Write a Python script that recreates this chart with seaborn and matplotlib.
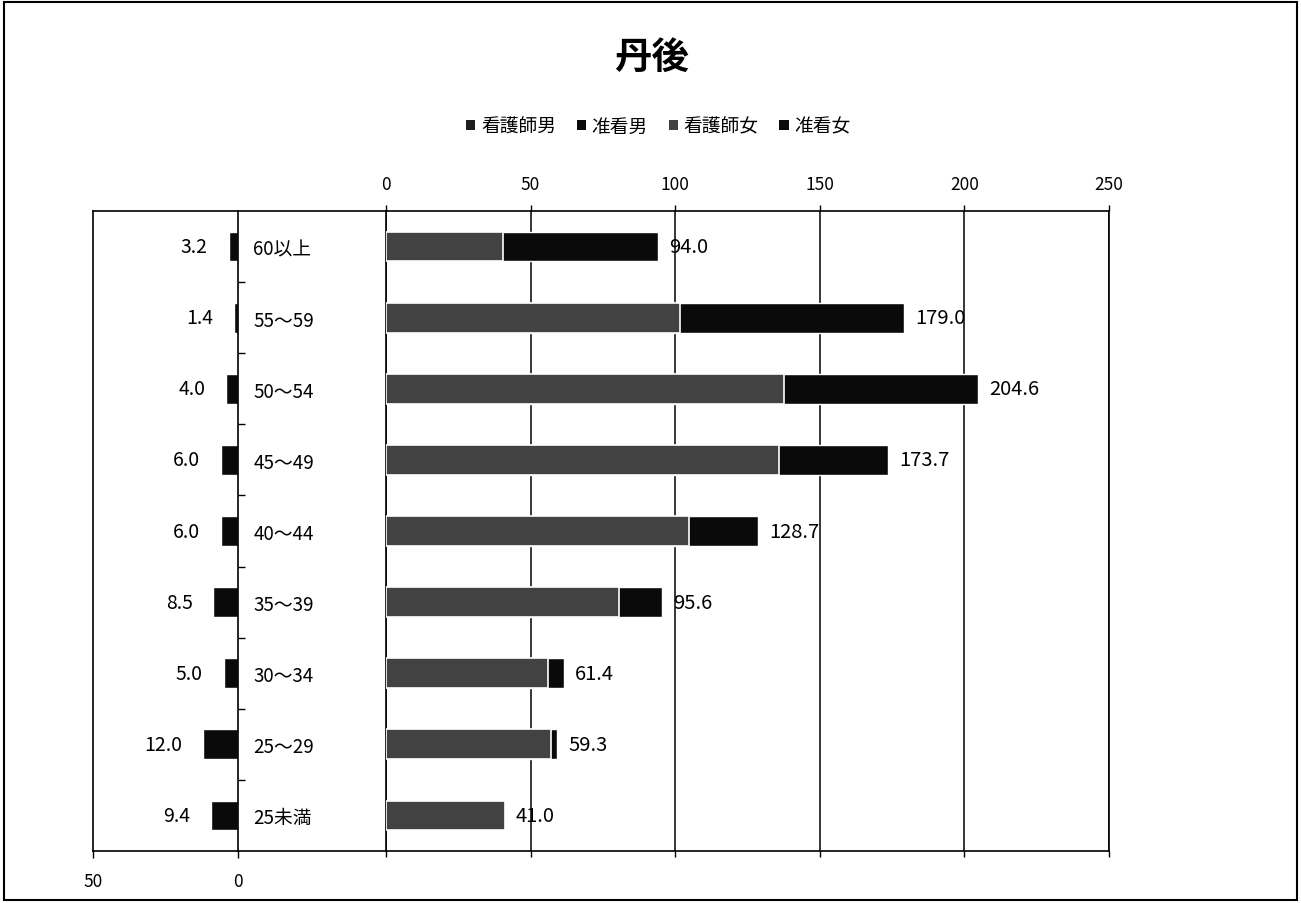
import numpy as np
import matplotlib
matplotlib.use("Agg")
import matplotlib.pyplot as plt
from matplotlib.patches import Patch, Rectangle
import seaborn as sns

# ----- style -----
sns.set_theme(style="white")
plt.rcParams["font.family"] = ["Noto Sans CJK JP", "DejaVu Sans"]
plt.rcParams["text.color"] = "black"
plt.rcParams["xtick.color"] = "black"
plt.rcParams["ytick.color"] = "black"

# ----- data -----
title = "丹後"
age_groups = ["60以上", "55～59", "50～54", "45～49", "40～44",
              "35～39", "30～34", "25～29", "25未満"]
male_total = [3.2, 1.4, 4.0, 6.0, 6.0, 8.5, 5.0, 12.0, 9.4]
nurse_female = [40.5, 101.5, 137.5, 136.0, 104.7, 80.6, 56.0, 57.2, 41.0]
assoc_female = [53.5, 77.5, 67.1, 37.7, 24.0, 15.0, 5.4, 2.1, 0.0]
legend_labels = ["看護師男", "准看男", "看護師女", "准看女"]
female_total = np.array(nurse_female) + np.array(assoc_female)

c_black = "#0a0a0a"
c_gray = "#424242"

W, H = 1301, 904
fig = plt.figure(figsize=(W / 100, H / 100), dpi=100)

def box(x0, x1, y0=212, y1=852):
    return [x0 / W, 1 - y1 / H, (x1 - x0) / W, (y1 - y0) / H]

ax_l = fig.add_axes(box(93, 238))
ax_m = fig.add_axes(box(238, 386))
ax_r = fig.add_axes(box(386, 1109))

# ----- left panel: male -----
sns.barplot(x=male_total, y=age_groups, order=age_groups, color=c_black,
            width=0.42, saturation=1, ax=ax_l)
ax_l.set_xlim(50, 0)
ax_l.set_xticks([50, 0])
ax_l.set_xticklabels(["50", "0"], fontsize=12.5)
ax_l.tick_params(axis="x", bottom=True, length=5, width=1, pad=10)
ax_l.yaxis.tick_right()
ax_l.set_yticks(range(len(age_groups)))
ax_l.set_yticklabels(age_groups, fontsize=13.5, ha="left")
ax_l.set_yticks(np.arange(0.5, len(age_groups) - 1, 1), minor=True)
ax_l.tick_params(axis="y", which="major", length=0, pad=11)
ax_l.tick_params(axis="y", which="minor", right=True, length=5, width=1,
                 direction="out")
ax_l.set_xlabel("")
ax_l.set_ylabel("")
for s in ax_l.spines.values():
    s.set_color("black")
    s.set_linewidth(1.2)
ax_l.bar_label(ax_l.containers[0], labels=[f"{v:.1f}" for v in male_total],
               padding=15, fontsize=14)

# ----- middle: only frame lines -----
ax_m.set_facecolor("none")
ax_m.set_xticks([])
ax_m.set_yticks([])
for side in ["left", "right"]:
    ax_m.spines[side].set_visible(False)
for side in ["top", "bottom"]:
    ax_m.spines[side].set_color("black")
    ax_m.spines[side].set_linewidth(1.2)

# ----- right panel: female stacked -----
sns.barplot(x=female_total, y=age_groups, order=age_groups, color=c_black,
            width=0.42, saturation=1, ax=ax_r, zorder=2)
sns.barplot(x=nurse_female, y=age_groups, order=age_groups, color=c_gray,
            width=0.42, saturation=1, ax=ax_r, edgecolor="white",
            linewidth=1.2, zorder=3)
ax_r.set_xlim(0, 250)
ax_r.set_xticks([0, 50, 100, 150, 200, 250])
ax_r.set_xticklabels(["0", "50", "100", "150", "200", "250"], fontsize=12.5)
ax_r.tick_params(axis="x", top=True, labeltop=True, bottom=True,
                 labelbottom=False, length=4, width=1, pad=9)
ax_r.xaxis.grid(True, color="black", linewidth=1.1)
ax_r.set_axisbelow(True)
ax_r.set_yticks([])
ax_r.set_xlabel("")
ax_r.set_ylabel("")
for s in ax_r.spines.values():
    s.set_color("black")
    s.set_linewidth(1.2)
ax_r.bar_label(ax_r.containers[0], labels=[f"{v:.1f}" for v in female_total],
               padding=8, fontsize=14.5)

# ----- title and legend -----
fig.text(0.501, 1 - 57 / H, title, ha="center", va="center",
         fontsize=27, fontweight="bold")
handles = [Patch(facecolor=c, edgecolor="none")
           for c in ["#1e1e1e", c_black, c_gray, c_black]]
fig.legend(handles, legend_labels, loc="center", ncol=4,
           bbox_to_anchor=(0.506, 1 - 127 / H), frameon=False, fontsize=13.5,
           handlelength=0.5, handleheight=0.5, handletextpad=0.3,
           columnspacing=1.1)

# outer frame
fig.patches.append(Rectangle((4 / W, 3 / H), 1 - 8 / W, 1 - 6 / H,
                             transform=fig.transFigure, fill=False,
                             edgecolor="black", linewidth=1.5))

fig.savefig("out.png", dpi=100)
